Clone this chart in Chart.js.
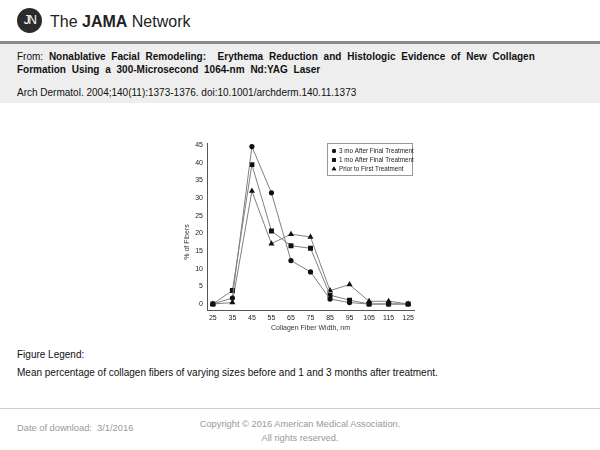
<!DOCTYPE html>
<html><head><meta charset="utf-8">
<script src="https://cdn.jsdelivr.net/npm/chart.js@4/dist/chart.umd.min.js"></script>
<style>
html,body{margin:0;padding:0;background:#fff;width:600px;height:450px;overflow:hidden;font-family:"Liberation Sans",Arial,sans-serif;}
#logo{position:absolute;left:17px;top:8px;width:25px;height:25px;border-radius:50%;background:#2b2b2b;color:#fff;font-size:12px;line-height:25px;text-align:center;letter-spacing:-1.5px;}
#brand{position:absolute;left:50px;top:12px;font-size:16px;line-height:19px;color:#222;}
#rule{position:absolute;left:0;top:41px;width:600px;height:3px;background:#8a8a8a;}
#band{position:absolute;left:0;top:44px;width:600px;height:59px;background:#eeeeee;}
.t{position:absolute;left:17px;font-size:10px;line-height:12px;color:#111;white-space:nowrap;}
#from1{top:51px;word-spacing:3px;}
#from2{top:64px;word-spacing:3px;}
#cite{top:87px;}
#figleg{top:349px;}
#mean{top:367px;}
#frule{position:absolute;left:0;top:408px;width:600px;height:1px;background:#ccc;}
#dl{position:absolute;left:17px;top:423px;font-size:9.3px;color:#999;}
#copy{position:absolute;left:150px;width:300px;top:417px;font-size:9.3px;color:#999;text-align:center;line-height:14px;}
#wrap{position:absolute;left:180px;top:138px;width:240px;height:200px;}
</style></head>
<body>
<div id="logo">JN</div>
<div id="brand">The <b>JAMA</b> Network</div>
<div id="rule"></div>
<div id="band"></div>
<div class="t" id="from1">From: <b>Nonablative Facial Remodeling:&nbsp; Erythema Reduction and Histologic Evidence of New Collagen</b></div>
<div class="t" id="from2"><b>Formation Using a 300-Microsecond 1064-nm Nd:YAG Laser</b></div>
<div class="t" id="cite">Arch Dermatol. 2004;140(11):1373-1376. doi:10.1001/archderm.140.11.1373</div>
<div id="wrap"><canvas id="c" width="240" height="200"></canvas></div>
<div class="t" id="figleg">Figure Legend:</div>
<div class="t" id="mean">Mean percentage of collagen fibers of varying sizes before and 1 and 3 months after treatment.</div>
<div id="frule"></div>
<div id="dl">Date of download:&nbsp; 3/1/2016</div>
<div id="copy">Copyright © 2016 American Medical Association.<br>All rights reserved.</div>
<script>
const widths = [25, 35, 45, 55, 65, 75, 85, 95, 105, 115, 125];
const yTicks = [0, 5, 10, 15, 20, 25, 30, 35, 40, 45];
const seriesNames = ["3 mo After Final Treatment", "1 mo After Final Treatment", "Prior to First Treatment"];
const threeMonths = [0, 1.7, 44.6, 31.5, 12.3, 9.1, 1.4, 0.4, 0, 0, 0];
const oneMonth = [0, 3.8, 39.5, 20.7, 16.5, 15.8, 2.5, 1.1, 0, 0, 0];
const priorTreatment = [0, 0.4, 32, 17.1, 19.8, 19.0, 3.8, 5.5, 0.75, 0.8, 0];
const xTitle = 'Collagen Fiber Width, nm';
const yTitle = '% of Fibers';

const fam = "'Liberation Sans',Arial,sans-serif";
const tickFont = {family: fam, size: 7};
function mk(label, vals, style, r) {
  return {label, data: vals.map((v, i) => ({x: widths[i], y: v})),
    borderColor: '#808080', borderWidth: 1, backgroundColor: '#111',
    pointStyle: style, pointRadius: r, pointBorderColor: '#111', pointBackgroundColor: '#111',
    pointBorderWidth: 0, tension: 0};
}
const extras = {
  id: 'extras',
  afterDraw(chart) {
    const ctx = chart.ctx;
    ctx.save();
    ctx.fillStyle = '#333';
    ctx.font = "7px " + fam;
    ctx.textAlign = 'center'; ctx.textBaseline = 'middle';
    ctx.translate(7, 104);
    ctx.rotate(-Math.PI / 2);
    ctx.fillText(yTitle, 0, 0);
    ctx.restore();
    ctx.save();
    const x0 = 147, y0 = 5, w = 85, h = 32;
    ctx.fillStyle = '#fff';
    ctx.fillRect(x0, y0, w, h);
    ctx.strokeStyle = '#999'; ctx.lineWidth = 1;
    ctx.strokeRect(x0 + 0.5, y0 + 0.5, w, h);
    ctx.font = "6.3px " + fam;
    ctx.textBaseline = 'middle';
    chart.data.datasets.forEach((ds, i) => {
      const yy = y0 + 8 + i * 9;
      ctx.fillStyle = '#111';
      Chart.helpers.drawPoint(ctx, {pointStyle: ds.pointStyle, radius: ds.pointStyle === 'circle' ? 2 : 2.6, borderWidth: 0}, x0 + 7, yy);
      ctx.fill();
      ctx.fillStyle = '#222';
      ctx.fillText(ds.label, x0 + 12, yy + 0.5);
    });
    ctx.restore();
  }
};
new Chart(document.getElementById('c'), {
  type: 'line',
  data: {datasets: [
    mk(seriesNames[0], threeMonths, 'circle', 2.6),
    mk(seriesNames[1], oneMonth, 'rect', 3.5),
    mk(seriesNames[2], priorTreatment, 'triangle', 3.5)
  ]},
  options: {
    responsive: false, animation: false,
    layout: {padding: {left: 0, right: 6, top: 5, bottom: 6}},
    plugins: {legend: {display: false}, tooltip: {enabled: false}},
    scales: {
      x: {type: 'linear', min: 22, max: 128,
        afterBuildTicks: s => { s.ticks = widths.map(v => ({value: v})); },
        afterFit: s => { s.height = 22; },
        grid: {display: false, drawTicks: true, tickLength: 3, color: '#555'},
        border: {color: '#555', width: 1},
        ticks: {font: tickFont, color: '#222', padding: 1, maxRotation: 0, autoSkip: false},
        title: {display: true, text: xTitle, font: {family: fam, size: 7}, color: '#333', padding: {top: 1, bottom: 0}}
      },
      y: {type: 'linear', min: -1.7, max: 45.57,
        afterBuildTicks: s => { s.ticks = yTicks.map(v => ({value: v})); },
        afterFit: s => { s.width = 27; },
        grid: {display: false, drawTicks: true, tickLength: 3, color: '#555'},
        border: {color: '#555', width: 1},
        ticks: {font: tickFont, color: '#222', padding: 1, autoSkip: false},
        title: {display: false}
      }
    }
  },
  plugins: [extras]
});
</script>
</body></html>
